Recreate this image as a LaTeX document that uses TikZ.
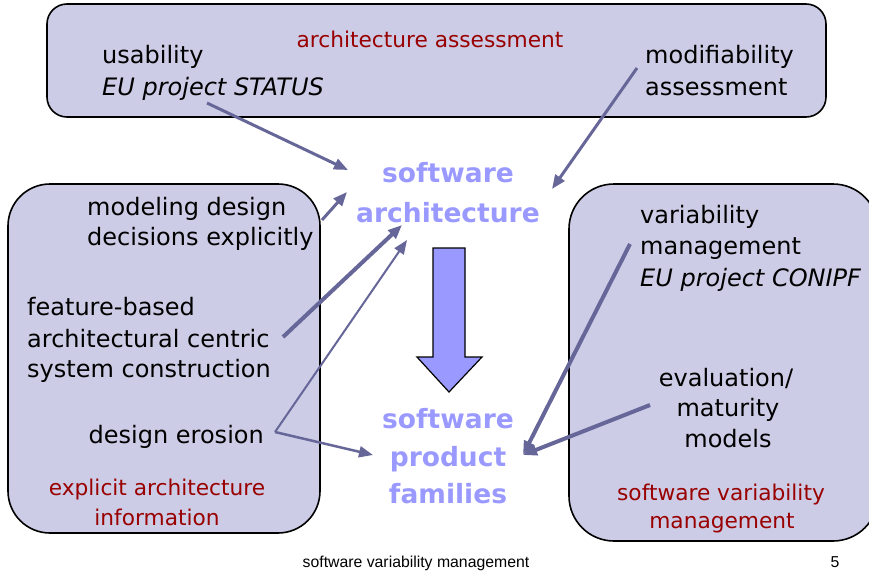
\documentclass[tikz,border=0pt]{standalone}
\usepackage{fontspec}
\setmainfont{DejaVu Sans}
\newfontfamily\footfont{Liberation Sans}
\usetikzlibrary{arrows.meta}
\definecolor{boxfill}{RGB}{204,204,230}
\definecolor{darkred}{RGB}{153,0,0}
\definecolor{lightblue}{RGB}{153,153,255}
\definecolor{arrowcol}{RGB}{102,102,153}
\tikzset{
  box/.style={draw=black, line width=1.6pt, fill=boxfill},
  txt/.style={inner sep=0pt, font=\fontsize{24}{32}\selectfont},
  ittxt/.style={txt, font=\fontsize{24}{32}\selectfont\itshape},
  redtxt/.style={inner sep=0pt, text=darkred, font=\fontsize{21.7}{28}\selectfont},
  bigtxt/.style={inner sep=0pt, text=lightblue, font=\fontsize{26.5}{38}\selectfont\bfseries},
  foot/.style={inner sep=0pt, font=\footfont\fontsize{15.8}{18}\selectfont},
  conn/.style={draw=arrowcol, line width=#1, -{Triangle[length=14pt,width=11pt]}},
  conn/.default=3pt
}
\begin{document}
\begin{tikzpicture}[x=1pt,y=-1pt]
\useasboundingbox (0,0) rectangle (869,570);
% boxes
\draw[box, rounded corners=20pt] (47,4) rectangle (826,117);
\draw[box, rounded corners=42pt] (8,184) rectangle (320,533);
\draw[box, rounded corners=45pt] (569,184) rectangle (878,541);
% top box texts
\node[redtxt, anchor=base] (aa) at (430,47) {architecture assessment};
\node[txt, anchor=base west] (us1) at (102,63) {usability};
\node[ittxt, anchor=base west] (us2) at (102,95) {EU project STATUS};
\node[txt, anchor=base west] (mo1) at (645,63) {modifiability};
\node[txt, anchor=base west] (mo2) at (645,95) {assessment};
% center texts
\node[bigtxt, anchor=base] (sa1) at (448,182) {software};
\node[bigtxt, anchor=base] (sa2) at (448,222) {architecture};
\node[bigtxt, anchor=base] (pf1) at (448,428) {software};
\node[bigtxt, anchor=base] (pf2) at (448,466) {product};
\node[bigtxt, anchor=base] (pf3) at (448,503) {families};
% left box texts
\node[txt, anchor=base west] (md1) at (87,215) {modeling design};
\node[txt, anchor=base west] (md2) at (87,245) {decisions explicitly};
\node[txt, anchor=base west] (fb1) at (27,315) {feature-based};
\node[txt, anchor=base west] (fb2) at (27,347) {architectural centric};
\node[txt, anchor=base west] (fb3) at (27,377) {system construction};
\node[txt, anchor=base east] (de) at (264,443) {design erosion};
\node[redtxt, anchor=base] (ea1) at (157,495) {explicit architecture};
\node[redtxt, anchor=base] (ea2) at (157,525) {information};
% right box texts
\node[txt, anchor=base west] (vm1) at (640,223) {variability};
\node[txt, anchor=base west] (vm2) at (640,254) {management};
\node[ittxt, anchor=base west] (vm3) at (640,286) {EU project CONIPF};
\node[txt, anchor=base] (ev1) at (726,386) {evaluation/};
\node[txt, anchor=base] (ev2) at (728,416) {maturity};
\node[txt, anchor=base] (ev3) at (728,447) {models};
\node[redtxt, anchor=base] (sv1) at (721,500) {software variability};
\node[redtxt, anchor=base] (sv2) at (722,528) {management};
% footer
\node[foot, anchor=base] (ft) at (416,567) {software variability management};
\node[foot, anchor=base] (pg) at (835,567) {5};
% big arrow
\draw[black, line width=1.2pt, fill=lightblue]
  (433,248) -- (465,248) -- (465,357) -- (482,357) -- (449,392) -- (417,357) -- (433,357) -- cycle;
% connector end points
\coordinate (usS) at (207,103);
\coordinate (usE) at (348,170);
\coordinate (moS) at (637,68);
\coordinate (moE) at (552,189);
\coordinate (mdS) at (322,220);
\coordinate (mdE) at (347,192);
\coordinate (fbS) at (283,337);
\coordinate (fbE) at (402,225);
\coordinate (deS) at (275,432);
\coordinate (deE1) at (407,240);
\coordinate (deE2) at (373,455);
\coordinate (vmS) at (630,244);
\coordinate (pfE) at (523,455);
\coordinate (evS) at (650,405);
% connectors
\draw[conn=3pt] (usS) -- (usE);
\draw[conn=3pt] (moS) -- (moE);
\draw[conn=3pt] (mdS) -- (mdE);
\draw[conn=4pt] (fbS) -- (fbE);
\draw[conn=2pt] (deS) -- (deE1);
\draw[conn=2.5pt] (deS) -- (deE2);
\draw[conn=4pt] (vmS) -- (pfE);
\draw[conn=4pt] (evS) -- (pfE);
\end{tikzpicture}
\end{document}
